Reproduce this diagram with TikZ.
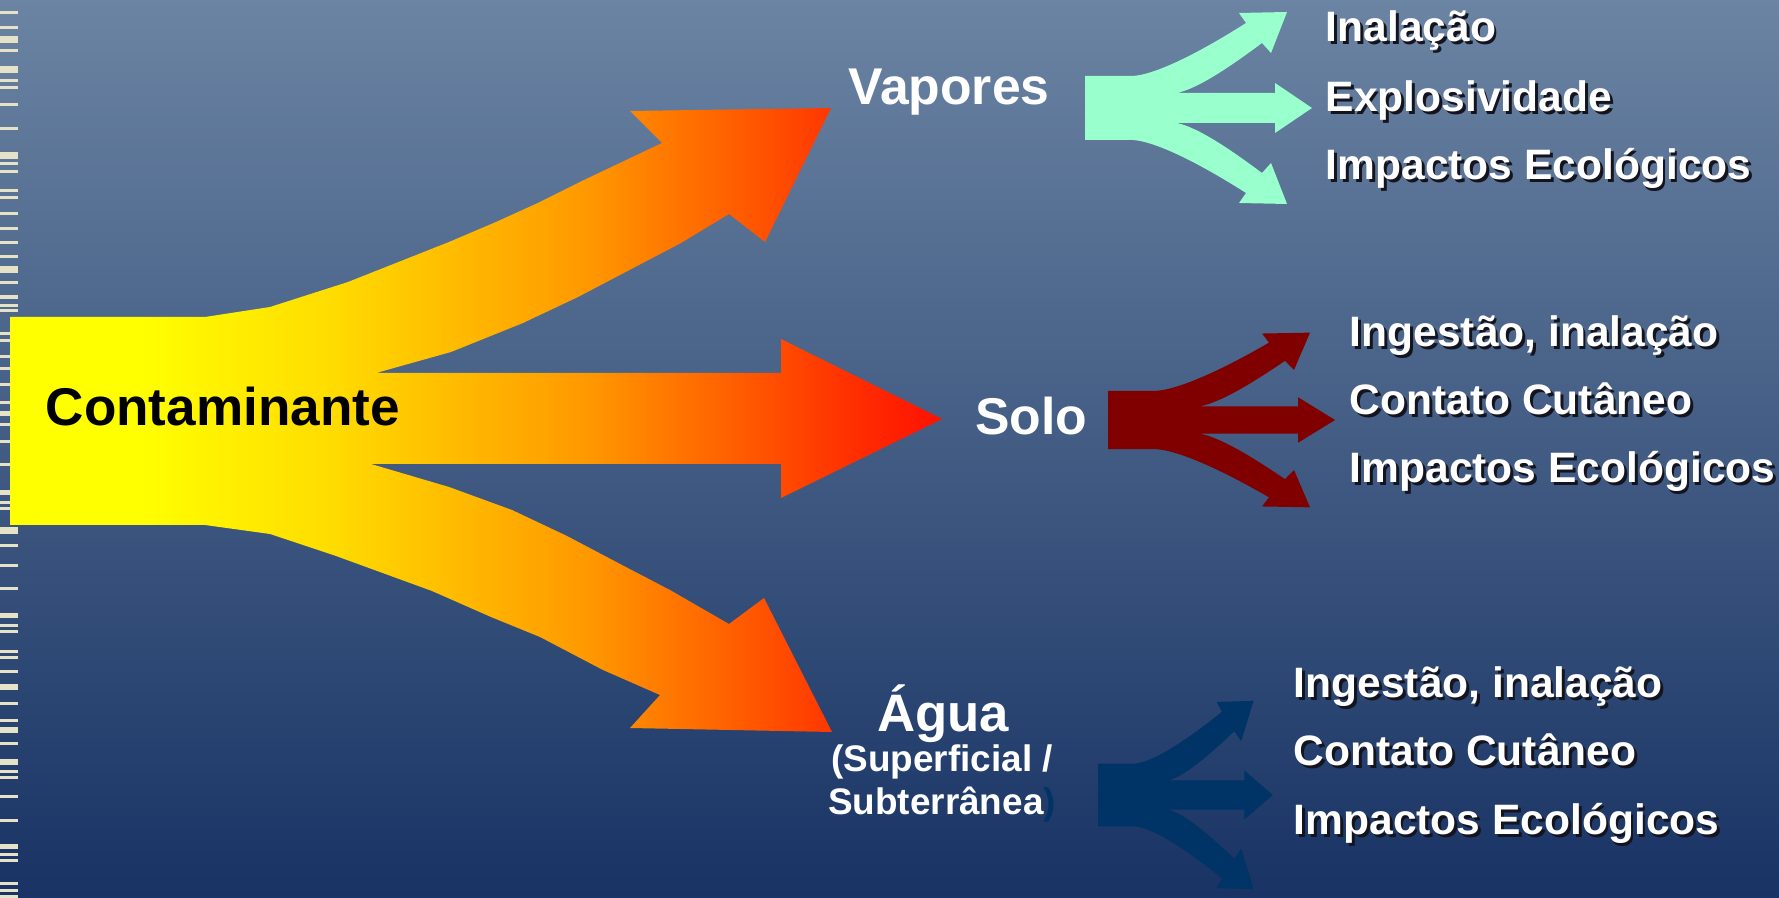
\documentclass[tikz,border=0pt]{standalone}
\usepackage{fontspec}
\setmainfont{Liberation Sans}

\definecolor{bgtop}{RGB}{107,132,163}
\definecolor{bgbottom}{RGB}{24,51,100}
\definecolor{stripe}{RGB}{230,226,200}
\definecolor{flameA}{RGB}{255,255,0}
\definecolor{flameB}{RGB}{255,221,0}
\definecolor{flameC}{RGB}{255,152,0}
\definecolor{flameD}{RGB}{255,48,0}
\definecolor{flameE}{RGB}{255,16,0}
\definecolor{vaporgreen}{RGB}{153,255,204}
\definecolor{solored}{RGB}{128,0,0}
\definecolor{aguablue}{RGB}{0,51,102}
\definecolor{shadowgray}{RGB}{20,20,30}

\pgfdeclarehorizontalshading{flame}{100bp}{color(0bp)=(flameA); color(32bp)=(flameA); color(42bp)=(flameB); color(56bp)=(flameC); color(70bp)=(flameD); color(75bp)=(flameE); color(100bp)=(flameE)}

\newcommand{\shadowed}[1]{\makebox[0pt][l]{\hspace*{0.8pt}\raisebox{-0.8pt}{\color{shadowgray}#1}}#1}

\begin{document}
\begin{tikzpicture}[
    x=0.01cm, y=-0.01cm,
    title/.style={text=white, inner sep=0pt, anchor=base, font=\fontsize{14.7}{17}\selectfont\bfseries},
    subtitle/.style={text=white, inner sep=0pt, anchor=base, font=\fontsize{10.5}{12}\selectfont\bfseries},
    effect/.style={text=white, inner sep=0pt, anchor=base west, font=\fontsize{12.1}{14}\selectfont\bfseries},
    fork/.pic={
        \path[pic actions] (0,-32) -- (48,-32) .. controls (75,-34) and (125,-62) .. (161,-85)
            -- (154,-95) -- (202,-96) -- (186,-55) -- (177,-65)
            .. controls (150,-45) and (115,-20) .. (92,-15)
            -- (190,-15) -- (190,-25) -- (227,0) -- (190,25) -- (190,15) -- (92,15)
            .. controls (115,20) and (150,45) .. (177,65)
            -- (186,55) -- (202,96) -- (154,95) -- (161,85)
            .. controls (125,62) and (75,34) .. (48,32) -- (0,32) -- cycle;
    }
]

    \useasboundingbox (0,0) rectangle (1779,898);

    % Background and left stripes
    \shade[top color=bgtop, bottom color=bgbottom] (0,0) rectangle (1779,898);
    \foreach \y/\h in {11/3, 26/3, 36/7, 49/3, 66/7, 79/3, 86/3, 103/3, 127/3, 152/7, 162/3, 170/3,
        189/3, 196/3, 212/3, 227/3, 241/3, 255/3, 266/7, 281/3, 295/4, 304/3, 309/3, 332/3, 339/3,
        355/3, 367/3, 383/3, 401/3, 411/5, 423/3, 440/3, 463/3, 490/5, 501/3, 507/3, 527/7, 544/3,
        564/3, 587/3, 613/5, 624/3, 630/3, 650/3, 656/3, 670/3, 684/6, 702/3, 719/3, 727/6, 742/3,
        759/6, 770/3, 776/3, 795/3, 819/3, 844/5, 853/3, 859/3, 882/3, 889/3, 895/3}
        \fill[stripe] (0,\y) rectangle (18,\y+\h);

    % Contaminant with its three pathways
    \shade[shading=flame] (10,317) -- (205,317) -- (270,307) -- (348,282) -- (449,242) -- (496,222)
        -- (540,202) -- (584,180) -- (662,143) -- (630,111) -- (831,108) -- (765,242) -- (729,214)
        -- (681,243) -- (578,297) -- (523,323) -- (451,352) -- (376,373)
        -- (781,373) -- (781,339) -- (942,419) -- (781,498) -- (781,464) -- (371,464)
        -- (449,487) -- (512,510) -- (567,536) -- (622,565) -- (670,590) -- (729,624) -- (764,598)
        -- (832,732) -- (630,728) -- (660,695) -- (603,670) -- (540,637) -- (491,617) -- (432,591)
        -- (336,556) -- (270,534) -- (205,525) -- (10,525) -- cycle;
    \node[anchor=base west, inner sep=0pt, font=\fontsize{15.1}{18}\selectfont\bfseries] (contam) at (45,426) {Contaminante};

    % Vapores
    \node[title] (vapores) at (949,105) {Vapores};
    \pic[fill=vaporgreen] at (1085,108) {fork};
    \node[effect] (vap1) at (1325,42) {\shadowed{Inalação}};
    \node[effect] (vap2) at (1325,112) {\shadowed{Explosividade}};
    \node[effect] (vap3) at (1325,180) {\shadowed{Impactos Ecológicos}};

    % Solo
    \node[title] (solo) at (1031,435) {Solo};
    \pic[fill=solored, yscale=0.91] at (1108,420) {fork};
    \node[effect] (solo1) at (1349,347) {\shadowed{Ingestão, inalação}};
    \node[effect] (solo2) at (1349,415) {\shadowed{Contato Cutâneo}};
    \node[effect] (solo3) at (1349,483) {\shadowed{Impactos Ecológicos}};

    % Agua
    \node[title, font=\fontsize{15}{18}\selectfont\bfseries] (agua) at (943,732) {Água};
    \node[subtitle] (aguasup) at (942,772) {(Superficial /};
    \node[subtitle] (aguasub) at (942,815) {Subterrânea\textcolor{aguablue}{)}};
    \pic[fill=aguablue, xscale=0.77, yscale=0.98] at (1098,795) {fork};
    \node[effect] (agua1) at (1293,698) {\shadowed{Ingestão, inalação}};
    \node[effect] (agua2) at (1293,766) {\shadowed{Contato Cutâneo}};
    \node[effect] (agua3) at (1293,835) {\shadowed{Impactos Ecológicos}};

\end{tikzpicture}
\end{document}
